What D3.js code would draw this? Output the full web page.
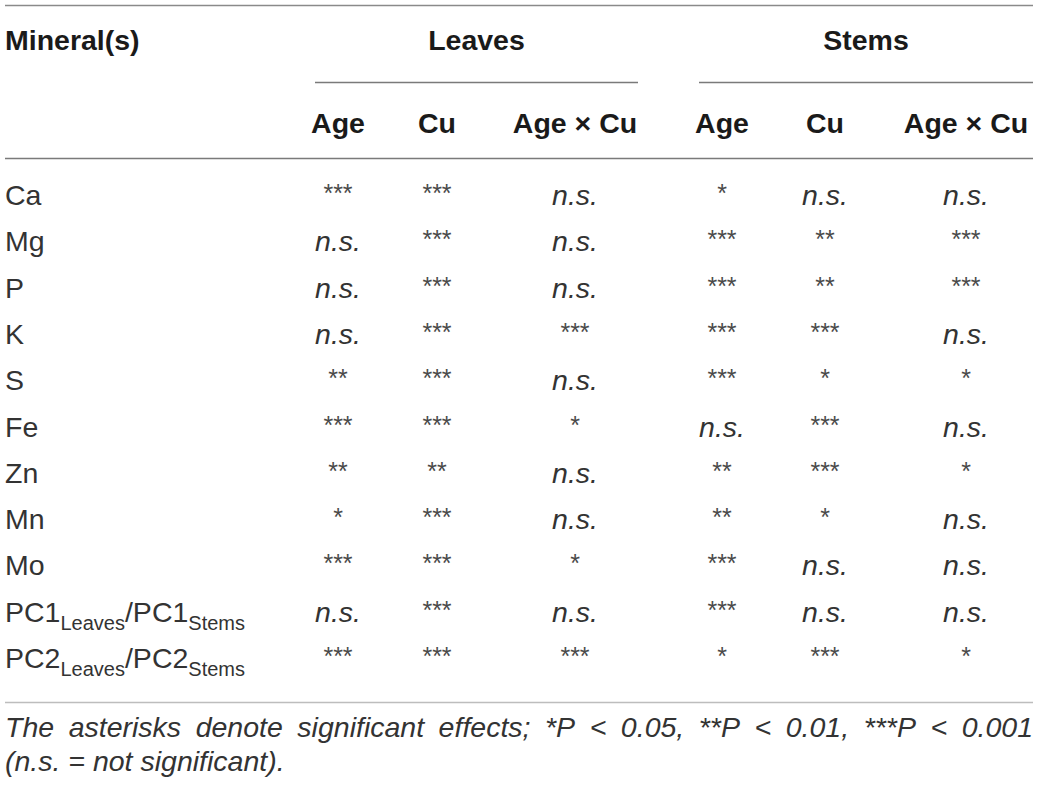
<!DOCTYPE html>
<html>
<head>
<meta charset="utf-8">
<script src="https://cdn.jsdelivr.net/npm/d3@7"></script>
<style>
  body { margin: 0; background: #fff; }
  svg text { font-family: "Liberation Sans", Arial, Helvetica, sans-serif; }
</style>
</head>
<body>
<svg width="1039" height="789"></svg>
<script>
// table content
const minerals = ['Ca', 'Mg', 'P', 'K', 'S', 'Fe', 'Zn', 'Mn', 'Mo', 'PC1', 'PC2']
const groups = ['Leaves', 'Stems']
const effects = ['Age', 'Cu', 'Age × Cu']
const leaves = [
    ['***', '***', 'n.s.'],
    ['n.s.', '***', 'n.s.'],
    ['n.s.', '***', 'n.s.'],
    ['n.s.', '***', '***'],
    ['**', '***', 'n.s.'],
    ['***', '***', '*'],
    ['**', '**', 'n.s.'],
    ['*', '***', 'n.s.'],
    ['***', '***', '*'],
    ['n.s.', '***', 'n.s.'],
    ['***', '***', '***']
]
const stems = [
    ['*', 'n.s.', 'n.s.'],
    ['***', '**', '***'],
    ['***', '**', '***'],
    ['***', '***', 'n.s.'],
    ['***', '*', '*'],
    ['n.s.', '***', 'n.s.'],
    ['**', '***', '*'],
    ['**', '*', 'n.s.'],
    ['***', 'n.s.', 'n.s.'],
    ['***', 'n.s.', 'n.s.'],
    ['*', '***', '*']
]
const footnote1 = 'The asterisks denote significant effects; *P < 0.05, **P < 0.01, ***P < 0.001'
const footnote2 = '(n.s. = not significant).'

const svg = d3.select('svg')
const left = 5, right = 1033
const fs = 28.5

// row baselines
const y = d3.scalePoint().domain(minerals).range([205, 668])

// column centres
const cols = groups.flatMap(g => effects.map(e => g + '|' + e))
const x = d3.scaleOrdinal().domain(cols).range([338, 437, 575, 722, 825, 966])
const spans = {Leaves: [315, 638], Stems: [699, 1033]}

const rule = (y0, x0, x1, color) => svg.append('line')
    .attr('x1', x0).attr('x2', x1).attr('y1', y0).attr('y2', y0)
    .attr('stroke', color).attr('stroke-width', 1.5)

rule(5.5, left, right, '#8a8a8a')
rule(158.5, left, right, '#7a7a7a')
rule(702.5, left, right, '#bdbdbd')

// header
svg.append('text').text('Mineral(s)')
    .attr('x', left).attr('y', 50)
    .attr('font-size', fs).attr('font-weight', 'bold').attr('fill', '#1a1a1a')

groups.forEach(g => {
    const [a, b] = spans[g]
    svg.append('text').text(g)
        .attr('x', (a + b) / 2).attr('y', 50).attr('text-anchor', 'middle')
        .attr('font-size', fs).attr('font-weight', 'bold').attr('fill', '#1a1a1a')
    rule(82.5, a, b, '#7a7a7a')
})

svg.selectAll('.sub').data(cols).enter().append('text')
    .attr('class', 'sub')
    .attr('x', d => x(d)).attr('y', 133).attr('text-anchor', 'middle')
    .attr('font-size', fs).attr('font-weight', 'bold').attr('fill', '#1a1a1a')
    .text(d => d.split('|')[1])

// row labels
const labels = svg.selectAll('.lab').data(minerals).enter().append('text')
    .attr('class', 'lab')
    .attr('x', left).attr('y', d => y(d))
    .attr('font-size', fs).attr('fill', '#333')

labels.each(function(d) {
    const t = d3.select(this)
    if (d.startsWith('PC')) {
        t.append('tspan').text(d)
        t.append('tspan').text('Leaves').attr('font-size', 20).attr('dy', 8)
        t.append('tspan').text('/' + d).attr('dy', -8)
        t.append('tspan').text('Stems').attr('font-size', 20).attr('dy', 8)
    } else {
        t.text(d)
    }
})

// cells
const cells = []
minerals.forEach((m, i) => {
    effects.forEach((e, j) => {
        cells.push({m, col: 'Leaves|' + e, v: leaves[i][j]})
        cells.push({m, col: 'Stems|' + e, v: stems[i][j]})
    })
})

svg.selectAll('.cell').data(cells).enter().append('text')
    .attr('class', 'cell')
    .attr('x', d => x(d.col))
    .attr('y', d => d.v === 'n.s.' ? y(d.m) : y(d.m) - 3)
    .attr('text-anchor', 'middle')
    .attr('font-size', d => d.v === 'n.s.' ? fs : 25)
    .attr('font-style', d => d.v === 'n.s.' ? 'italic' : 'normal')
    .attr('fill', d => d.v === 'n.s.' ? '#333' : '#4a4a4a')
    .text(d => d.v)

// footnote, first line justified
const words = footnote1.split(' ')
const wt = svg.append('g').selectAll('text').data(words).enter().append('text')
    .attr('y', 737).attr('font-size', fs).attr('font-style', 'italic').attr('fill', '#333')
    .text(d => d)
const widths = []
wt.each(function() { widths.push(this.getComputedTextLength()) })
const gap = (right - left - d3.sum(widths)) / (words.length - 1)
let cx = left
wt.attr('x', (d, i) => { const p = cx; cx += widths[i] + gap; return p })

svg.append('text').text(footnote2)
    .attr('x', left).attr('y', 771)
    .attr('font-size', fs).attr('font-style', 'italic').attr('fill', '#333')
</script>
</body>
</html>
